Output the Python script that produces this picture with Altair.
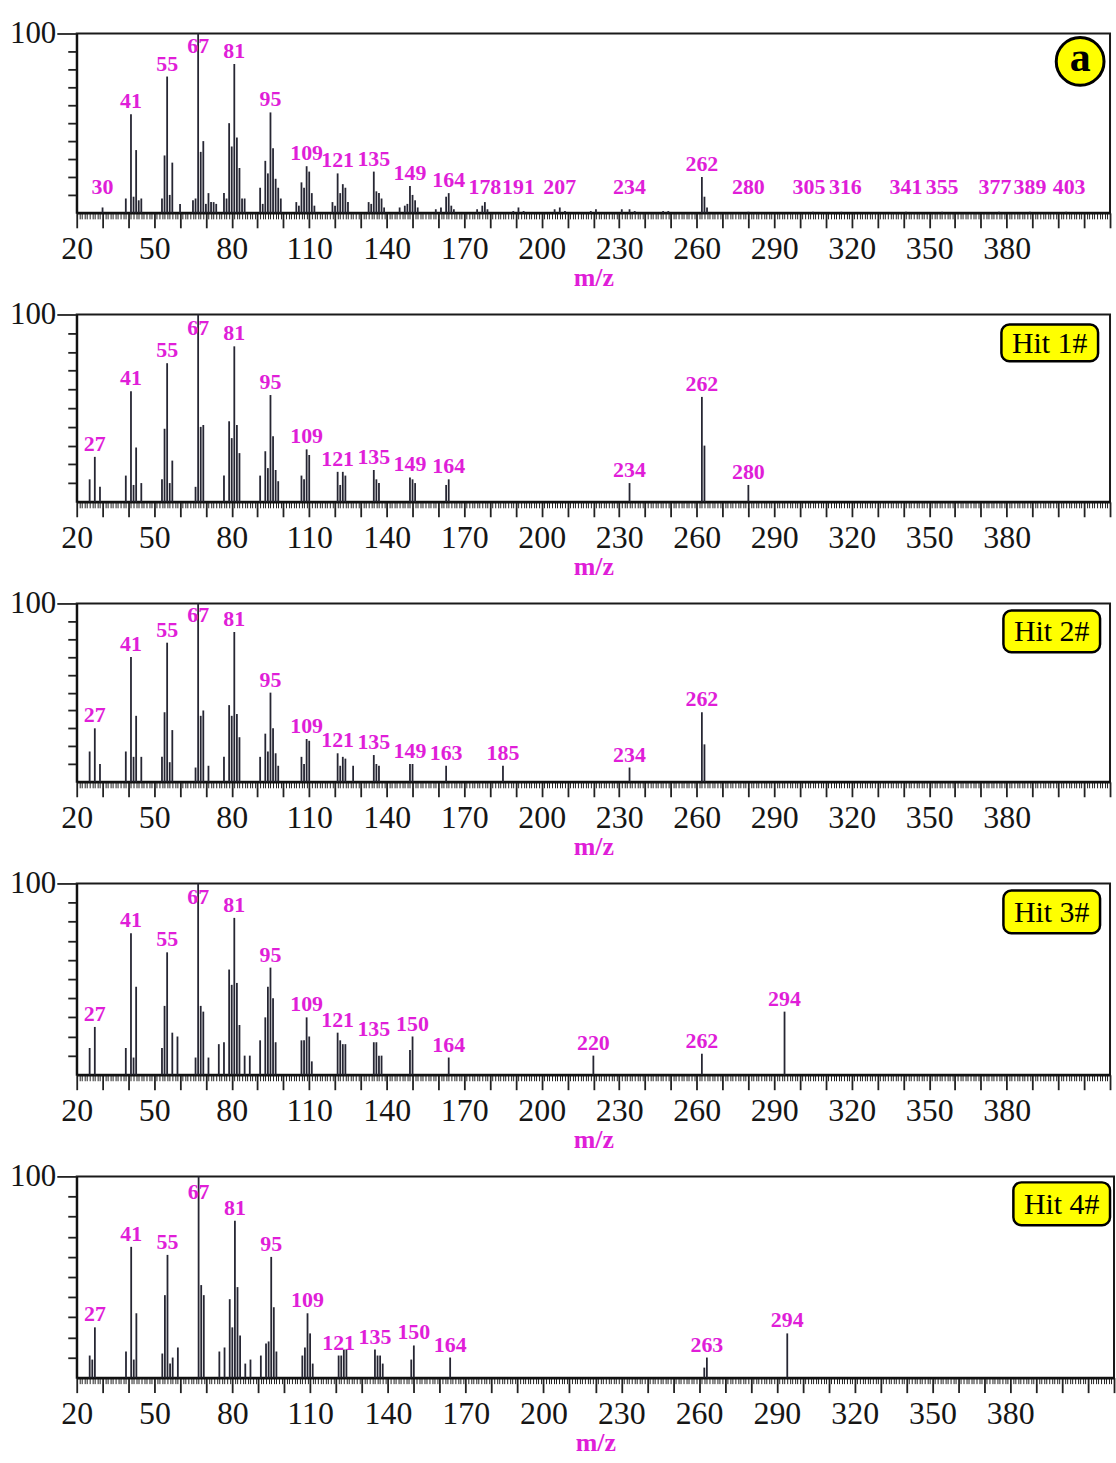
import altair as alt
import pandas as pd

MAGENTA = "#e01ed8"
LINE = "#262633"
SERIF = "Liberation Serif"

# ---------------- data (m/z : relative intensity %) ----------------
peaks_a = {30: 3, 39: 8, 41: 55, 42: 9, 43: 35, 44: 7, 45: 8,
           53: 8, 54: 32, 55: 76, 56: 10, 57: 28, 60: 5,
           65: 7, 66: 8, 67: 100, 68: 34, 69: 40, 70: 5, 71: 11, 72: 6, 73: 6, 74: 5,
           77: 11, 78: 8, 79: 50, 80: 37, 81: 83, 82: 42, 83: 25, 84: 8, 85: 8,
           91: 14, 92: 5, 93: 29, 94: 22, 95: 56, 96: 36, 97: 19, 98: 14, 99: 8,
           105: 6, 106: 4, 107: 17, 108: 14, 109: 26, 110: 23, 111: 11, 112: 4,
           119: 6, 120: 4, 121: 22, 122: 11, 123: 16, 124: 14, 125: 6,
           133: 6, 134: 5, 135: 23, 136: 12, 137: 11, 138: 8, 139: 3,
           145: 3, 147: 4, 148: 5, 149: 15, 150: 10, 151: 7, 152: 3,
           159: 2, 161: 3, 163: 9, 164: 11, 165: 4, 166: 2,
           175: 2, 177: 4, 178: 6, 179: 2, 189: 1, 191: 3, 193: 1,
           205: 2, 207: 3, 209: 1, 219: 1, 221: 2, 231: 2, 234: 2, 236: 1,
           247: 1, 249: 1, 262: 20, 263: 9, 264: 3,
           280: 0.6, 305: 0.6, 316: 0.6, 341: 0.6, 355: 0.6, 377: 0.6, 389: 0.6, 403: 0.6}
labels_a = [30, 41, 55, 67, 81, 95, 109, 121, 135, 149, 164, 178, 191, 207, 234,
            262, 280, 305, 316, 341, 355, 377, 389, 403]

peaks_h1 = {25: 12, 27: 24, 29: 8, 39: 14, 41: 59, 42: 9, 43: 29, 45: 10,
            53: 12, 54: 39, 55: 74, 56: 10, 57: 22, 66: 8, 67: 100, 68: 40, 69: 41,
            77: 14, 79: 43, 80: 34, 81: 83, 82: 41, 83: 26,
            91: 14, 93: 27, 94: 18, 95: 57, 96: 35, 97: 17, 98: 11,
            107: 14, 108: 12, 109: 28, 110: 25, 121: 16, 122: 9, 123: 16, 124: 14,
            135: 17, 136: 12, 137: 10, 149: 13, 150: 12, 151: 10, 163: 9, 164: 12,
            234: 10, 262: 56, 263: 30, 280: 9}
labels_h1 = [27, 41, 55, 67, 81, 95, 109, 121, 135, 149, 164, 234, 262, 280]

peaks_h2 = {25: 17, 27: 30, 29: 10, 39: 17, 41: 70, 42: 14, 43: 37, 45: 14,
            53: 14, 54: 39, 55: 78, 56: 11, 57: 29, 66: 8, 67: 100, 68: 37, 69: 40, 71: 9,
            77: 14, 79: 43, 80: 37, 81: 84, 82: 38, 83: 25,
            91: 14, 93: 27, 94: 17, 95: 50, 96: 30, 97: 16, 98: 9,
            107: 14, 108: 10, 109: 24, 110: 23, 121: 16, 122: 9, 123: 14, 124: 13, 127: 9,
            135: 15, 136: 10, 137: 9, 149: 10, 150: 10, 163: 9, 185: 9,
            234: 8, 262: 39, 263: 21}
labels_h2 = [27, 41, 55, 67, 81, 95, 109, 121, 135, 149, 163, 185, 234, 262]

peaks_h3 = {25: 14, 27: 25, 39: 14, 41: 74, 42: 9, 43: 46,
            53: 14, 54: 36, 55: 64, 57: 22, 59: 20, 66: 9, 67: 100, 68: 36, 69: 33, 71: 9,
            75: 16, 77: 17, 79: 55, 80: 47, 81: 82, 82: 48, 83: 26, 85: 10, 87: 10,
            91: 18, 93: 30, 94: 46, 95: 56, 96: 40, 97: 17,
            107: 18, 108: 18, 109: 30, 110: 20, 111: 7, 121: 22, 122: 18, 123: 16, 124: 16,
            135: 17, 136: 17, 137: 10, 138: 10, 149: 13, 150: 20, 164: 9,
            220: 10, 262: 11, 294: 33}
labels_h3 = [27, 41, 55, 67, 81, 95, 109, 121, 135, 150, 164, 220, 262, 294]

peaks_h4 = {25: 11, 26: 9, 27: 25, 39: 13, 41: 65, 42: 9, 43: 32,
            53: 12, 54: 41, 55: 61, 56: 7, 57: 10, 59: 15, 67: 100, 68: 46, 69: 41,
            75: 13, 77: 15, 79: 39, 80: 25, 81: 78, 82: 45, 83: 21, 85: 7, 87: 9,
            91: 11, 93: 17, 94: 18, 95: 60, 96: 35, 97: 13,
            107: 11, 108: 15, 109: 32, 110: 22, 111: 7, 121: 11, 122: 11, 123: 14, 124: 14,
            135: 14, 136: 11, 137: 11, 138: 7, 149: 9, 150: 16, 164: 10,
            262: 5, 263: 10, 294: 22}
labels_h4 = [27, 41, 55, 67, 81, 95, 109, 121, 135, 150, 164, 263, 294]

badges = ["a", "Hit 1#", "Hit 2#", "Hit 3#", "Hit 4#"]

# ---------------- styling ----------------
xscale = alt.Scale(domain=[20, 420], nice=False, zero=False)
yscale = alt.Scale(domain=[0, 100], nice=False)

x_axis = alt.Axis(
    values=list(range(20, 421)),
    labelExpr="(datum.value - 20) % 30 == 0 && datum.value <= 380 ? datum.label : ''",
    tickSize={"condition": {"test": "datum.value % 10 == 0", "value": 15}, "value": 6},
    tickWidth={"condition": {"test": "datum.value % 10 == 0", "value": 1.8}, "value": 1},
    tickColor="#222222",
    domainColor="#111111",
    domainWidth=2.5,
    grid=False,
    labelOverlap=False,
    labelFlush=False,
    labelFont=SERIF,
    labelFontSize=32,
    labelColor="#151515",
    labelPadding=6,
    title="m/z",
    titleFont=SERIF,
    titleFontSize=26,
    titleFontWeight="bold",
    titleColor=MAGENTA,
    titlePadding=0,
)

y_axis = alt.Axis(
    values=list(range(10, 101, 10)),
    labelExpr="datum.value == 100 ? '100' : ''",
    tickSize={"condition": {"test": "datum.value == 100", "value": 20}, "value": 9},
    tickWidth=1.8,
    tickColor="#222222",
    domainColor="#111111",
    domainWidth=2,
    grid=False,
    labelOverlap=False,
    labelFont=SERIF,
    labelFontSize=31,
    labelColor="#151515",
    labelPadding=1,
    title=None,
)

# panel sizes and badge boxes (pixels inside each plot area)
heights = [180, 188, 179, 192, 202]
widths = [1037, 1037, 1037, 1037, 1041]
boxes = [None, (928, 1025, 10, 47), (930, 1027, 7, 49), (930, 1027, 7, 50), (940, 1037, 6, 49)]
# small horizontal nudges (px) for crowded peak labels
nudges = {305: -4, 316: 4, 377: -4, 403: 3}


def panel(peaks, labels, badge, height, width, box):
    dfp = pd.DataFrame({"mz": list(peaks.keys()), "rel": list(peaks.values())})
    lines = alt.Chart(dfp).mark_rule(color=LINE, strokeWidth=1.8).encode(
        x=alt.X("mz:Q", scale=xscale, axis=x_axis),
        y=alt.Y("rel:Q", scale=yscale, axis=y_axis),
        y2=alt.datum(0),
    )
    layers = [lines]
    groups = {}
    for m in labels:
        groups.setdefault(nudges.get(m, 0) if badge == "a" else 0, []).append(m)
    for dx, ms in groups.items():
        dfl = pd.DataFrame({"mz": ms,
                            "rel": [peaks[m] for m in ms],
                            "txt": [str(m) for m in ms]})
        layers.append(
            alt.Chart(dfl).transform_calculate(
                ly="max(min(datum.rel, 86), 7)"
            ).mark_text(font=SERIF, fontSize=22, fontWeight="bold", color=MAGENTA,
                        baseline="bottom", align="center", dy=-1, dx=dx).encode(
                x=alt.X("mz:Q", scale=xscale, axis=x_axis),
                y=alt.Y("ly:Q", scale=yscale, axis=y_axis),
                text="txt:N",
            )
        )
    bdf = pd.DataFrame({"t": [badge]})
    if box is None:
        cx, cy = width - 30, 28
        shape = alt.Chart(bdf).mark_point(shape="circle", filled=True, fill="#ffff00",
                                          stroke="black", strokeWidth=3, size=2300,
                                          opacity=1).encode(
            x=alt.value(cx), y=alt.value(cy))
        label = alt.Chart(bdf).mark_text(font=SERIF, fontSize=42, fontWeight="bold",
                                         color="black", baseline="alphabetic",
                                         align="center").encode(
            x=alt.value(cx), y=alt.value(cy + 10), text="t:N")
    else:
        x0, x1, y0, y1 = box
        shape = alt.Chart(bdf).mark_rect(fill="#ffff00", stroke="black", strokeWidth=2.5,
                                         cornerRadius=8).encode(
            x=alt.value(x0), x2=alt.value(x1), y=alt.value(y0), y2=alt.value(y1))
        label = alt.Chart(bdf).mark_text(font=SERIF, fontSize=30, color="black",
                                         baseline="alphabetic", align="center").encode(
            x=alt.value((x0 + x1) / 2), y=alt.value((y0 + y1) / 2 + 10), text="t:N")
    layers += [shape, label]
    return alt.layer(*layers).properties(width=width, height=height)


all_peaks = [peaks_a, peaks_h1, peaks_h2, peaks_h3, peaks_h4]
all_labels = [labels_a, labels_h1, labels_h2, labels_h3, labels_h4]

panels = [panel(p, l, b, h, w, bx)
          for p, l, b, h, w, bx in zip(all_peaks, all_labels, badges, heights, widths, boxes)]

chart = alt.vconcat(*panels, spacing=6).properties(
    padding={"left": 8, "top": 14, "right": 0, "bottom": 0},
    background="white",
).configure_view(stroke="#1a1a1a", strokeWidth=2)

chart.save("out.html", embed_options={"renderer": "svg", "actions": False})
